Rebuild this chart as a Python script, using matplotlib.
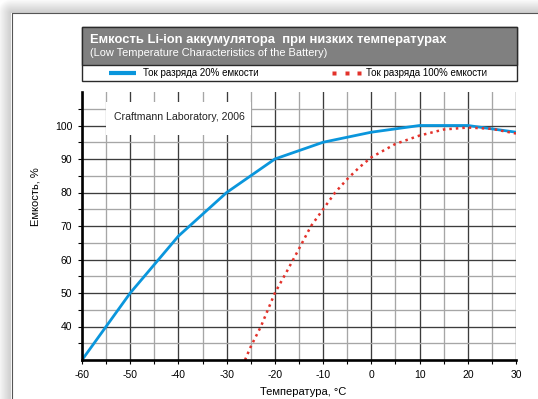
import matplotlib
matplotlib.use('Agg')
import matplotlib.pyplot as plt
import numpy as np
from matplotlib.patches import Rectangle
from matplotlib.lines import Line2D
from matplotlib.ticker import MultipleLocator

plt.rcParams['font.family'] = ['Liberation Sans', 'DejaVu Sans']
plt.rcParams['axes.unicode_minus'] = False

# ── данные ──
temp_20 = [-60, -50, -40, -30, -20, -10, 0, 10, 20, 30]
cap_20 = [30, 50, 67, 80, 90, 95, 98, 100, 100, 98]

temp_100 = [-26.2, -25, -22.9, -20, -17.5, -15, -12.5, -10, -7.5, -5, -2.5,
            0, 5, 10, 15, 20, 25, 30]
cap_100 = [30, 34, 40, 50, 56.5, 63.2, 70, 75, 80, 84, 87.5,
           90.5, 94.5, 97, 98.8, 99.4, 99, 97.6]

x_ticks = list(range(-60, 31, 10))
y_ticks = list(range(40, 101, 10))

BLUE = '#0a96dc'
RED = '#e3322b'

W, H = 538, 399
def fx(x): return x / W
def fy(y): return 1 - y / H

fig = plt.figure(figsize=(W / 100, H / 100), dpi=100)

# ── тень листа ──
yy, xx = np.mgrid[0:H, 0:W] + 0.5
dx = np.clip(11.5 - xx, 0, None)
dy = np.clip(13 - yy, 0, None)
d = np.hypot(dx, dy)
shade = np.where((dx > 0) | (dy > 0), np.clip(0.80 + 0.2 * d / 14, 0, 1), 1.0)
bg = fig.add_axes([0, 0, 1, 1])
bg.imshow(shade, cmap='gray', vmin=0, vmax=1, aspect='auto', interpolation='bilinear')
bg.axis('off')
fig.add_artist(Line2D([fx(11.5), fx(11.5), fx(W)], [fy(H), fy(13), fy(13)],
                      color='#555555', lw=0.8))

# ── график ──
ax = fig.add_axes([fx(82), fy(360), (516 - 82) / W, (360 - 92) / H])
ax.set_xlim(-60, 30)
ax.set_ylim(30, 110)
ax.set_xticks(x_ticks)
ax.xaxis.set_minor_locator(MultipleLocator(5))
ax.set_yticks(y_ticks)
ax.set_yticks(list(range(35, 110, 10)), minor=True)
ax.set_axisbelow(True)
ax.grid(which='major', color='#3c3c3c', lw=0.95)
ax.grid(which='minor', color='#a6a6a6', lw=0.95)
for s in ('top', 'right'):
    ax.spines[s].set_visible(False)
for s in ('left', 'bottom'):
    ax.spines[s].set_linewidth(1.9)
ax.tick_params(which='both', length=3, width=0.8, color='black',
               labelsize=7.5, pad=4)

ax.plot(temp_20, cap_20, color=BLUE, lw=2.0)
ax.plot(temp_100, cap_100, color=RED, lw=1.8, linestyle=(0, (1, 1.6)),
        dash_capstyle='butt')

ax.add_patch(Rectangle((-55, 97.2), 30, 9.9, fc='white', ec='none', zorder=1.5))
ax.text(-39.8, 102.6, 'Craftmann Laboratory, 2006', ha='center', va='center',
        fontsize=7.6, color='#222222', zorder=3)

fig.text(fx(303), fy(392), 'Температура, °C', ha='center', va='center', fontsize=8)
fig.text(fx(35), fy(197), 'Емкость, %', ha='center', va='center', fontsize=8,
         rotation=90)

# ── шапка с легендой ──
fig.add_artist(Rectangle((fx(81.5), fy(81)), (517 - 81.5) / W, (81 - 26.5) / H,
                         transform=fig.transFigure, fc='white', ec='#2a2a2a', lw=1.0))
fig.add_artist(Rectangle((fx(81.5), fy(65)), (517 - 81.5) / W, (65 - 26.5) / H,
                         transform=fig.transFigure, fc='#808080', ec='#2a2a2a', lw=1.0))
fig.text(fx(90.5), fy(40), 'Емкость Li-ion аккумулятора  при низких температурах',
         fontsize=9.4, fontweight='bold', color='white', va='center')
fig.text(fx(90.5), fy(53.5), '(Low Temperature Characteristics of the Battery)',
         fontsize=7.9, color='white', va='center')

fig.add_artist(Line2D([fx(109), fx(136)], [fy(72.7)] * 2, color=BLUE, lw=3,
                      solid_capstyle='butt'))
fig.add_artist(Line2D([fx(334.3), fx(346.5), fx(358.5)], [fy(72.7)] * 3, ls='none',
                      marker='s', ms=3, color=RED, mec='none'))
fig.text(fx(143), fy(72.7), 'Ток разряда 20% емкости', fontsize=7, va='center')
fig.text(fx(366.5), fy(72.7), 'Ток разряда 100% емкости', fontsize=7, va='center')

fig.savefig('out.png', dpi=100, facecolor='white')
